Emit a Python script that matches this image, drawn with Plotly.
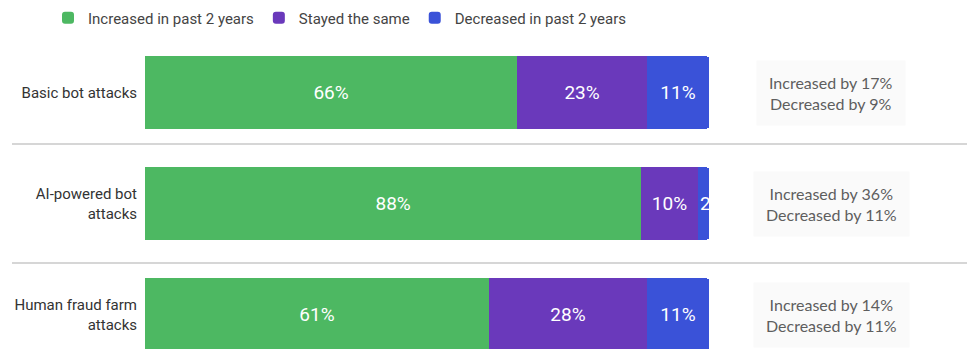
import plotly.graph_objects as go

categories = ["Basic bot attacks", "AI-powered bot<br>attacks", "Human fraud farm<br>attacks"]
increased = [66, 88, 61]
stayed = [23, 10, 28]
decreased = [11, 2, 11]
side_notes = [
    "Increased by 17%<br>Decreased by 9%",
    "Increased by 36%<br>Decreased by 11%",
    "Increased by 14%<br>Decreased by 11%",
]
series_names = ["Increased in past 2 years", "Stayed the same", "Decreased in past 2 years"]
colors = ["#4db862", "#6a39bb", "#3a52d8"]

OFF = 8  # page body margin
W, H = 975 - OFF, 349 - OFF
L, T, B = 145 - OFF, 37 - OFF, 0
R = W - (709 - OFF)
pw, ph = W - L - R, H - T - B


def px_x(xp):
    return (xp - OFF - L) / pw


def px_y(yp):
    return (H - B - (yp - OFF)) / ph


fig = go.Figure()
for name, vals, col in zip(series_names, [increased, stayed, decreased], colors):
    texts = [f"{v}%" if v >= 5 else "" for v in vals]
    fig.add_trace(go.Bar(
        y=categories, x=vals, name=name, orientation="h",
        marker=dict(color=col, line=dict(width=0)),
        text=texts, textposition="inside", insidetextanchor="middle",
        textfont=dict(family="Roboto", size=19, color="white"),
        hoverinfo="skip",
    ))

# small value label that overflows its segment
for i, v in enumerate(decreased):
    if v < 5:
        fig.add_annotation(
            x=100 - v, y=categories[i], xref="x", yref="y",
            text=str(v), showarrow=False, xanchor="left", xshift=0,
            font=dict(family="Roboto", size=19, color="white"),
        )

for i, note in enumerate(side_notes):
    fig.add_annotation(
        x=px_x(831), y=categories[i], xref="paper", yref="y",
        xanchor="center", yanchor="middle",
        text=note, showarrow=False, align="center",
        font=dict(family="Lato", size=16, color="#5e5e5e"),
        bgcolor="#fafafa", borderpad=12,
    )

for yp in [144, 263]:
    fig.add_shape(type="line", xref="paper", yref="paper",
                  x0=px_x(12), x1=px_x(972), y0=px_y(yp), y1=px_y(yp),
                  line=dict(color="#c8c8c8", width=1.5))

fig.update_layout(
    width=W, height=H,
    margin=dict(l=L, r=R, t=T, b=B, autoexpand=False),
    barmode="stack", bargap=0.35,
    plot_bgcolor="white", paper_bgcolor="white",
    font=dict(family="Roboto", size=15, color="#333333"),
    showlegend=True,
    legend=dict(orientation="h", x=px_x(48), xanchor="left", y=px_y(18), yanchor="middle",
                font=dict(family="Roboto", size=15, color="#444444"), traceorder="normal"),
    xaxis=dict(range=[0, 100], visible=False, fixedrange=True),
    yaxis=dict(range=[2.31, -0.5], showgrid=False, zeroline=False, showline=False,
               ticks="outside", ticklen=4, tickcolor="rgba(0,0,0,0)",
               tickfont=dict(family="Roboto", size=15, color="#333333")),
    barcornerradius=2,
)

fig.write_html("out.html")
